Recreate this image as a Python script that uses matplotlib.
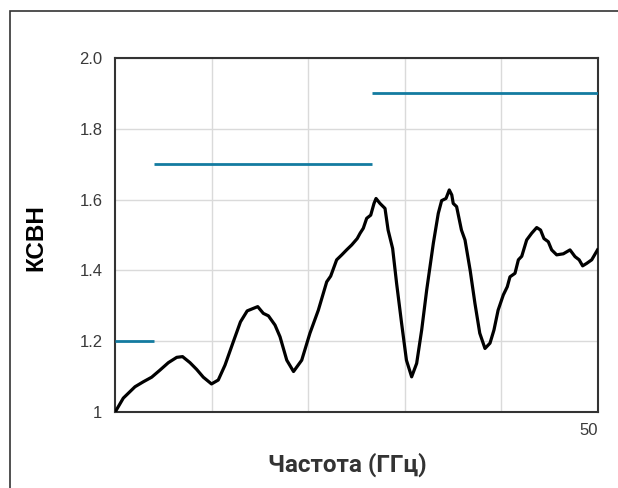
import matplotlib
matplotlib.use("Agg")
import matplotlib.pyplot as plt
from matplotlib.patches import Rectangle

# ---- data ----
freq_ghz = [0.0, 0.86, 2.07, 2.93, 3.8, 4.66, 5.53, 6.4, 7.0, 7.77, 8.46, 9.15,
            10.0, 10.7, 11.4, 12.26, 13.0, 13.7, 14.33, 14.79, 15.37, 15.9, 16.58,
            17.1, 17.8, 18.5, 19.35, 20.2, 21.07, 21.94, 22.35, 22.97, 23.5, 24.0,
            24.53, 25.1, 25.4, 25.73, 26.08, 26.5, 26.84, 27.05, 27.46, 27.98,
            28.3, 28.77, 29.18, 29.7, 30.2, 30.74, 31.26, 31.78, 32.3, 32.99,
            33.5, 33.85, 34.3, 34.64, 34.9, 35.05, 35.4, 35.9, 36.27, 36.8, 37.3,
            37.8, 38.34, 38.86, 39.27, 39.7, 40.24, 40.65, 40.93, 41.45, 41.8,
            42.15, 42.66, 43.18, 43.7, 44.1, 44.45, 44.9, 45.25, 45.77, 46.46,
            47.15, 47.67, 48.1, 48.46, 48.88, 49.4, 50.0]
vswr = [1.0, 1.04, 1.072, 1.086, 1.099, 1.119, 1.14, 1.155, 1.157, 1.14, 1.121, 1.099,
        1.08, 1.091, 1.133, 1.199, 1.255, 1.286, 1.293, 1.298, 1.279, 1.272, 1.246,
        1.213, 1.147, 1.115, 1.147, 1.223, 1.288, 1.368, 1.384, 1.43, 1.444, 1.458,
        1.472, 1.49, 1.505, 1.519, 1.547, 1.556, 1.589, 1.603, 1.589, 1.575,
        1.514, 1.462, 1.364, 1.251, 1.147, 1.10, 1.138, 1.232, 1.345, 1.477,
        1.561, 1.597, 1.603, 1.627, 1.613, 1.589, 1.58, 1.514, 1.486, 1.401, 1.307,
        1.223, 1.18, 1.195, 1.232, 1.288, 1.331, 1.354, 1.382, 1.392, 1.43,
        1.44, 1.486, 1.505, 1.521, 1.514, 1.49, 1.481, 1.458, 1.444, 1.447,
        1.458, 1.439, 1.43, 1.413, 1.42, 1.43, 1.458]

limit_start = [0.0, 4.0, 26.6]
limit_end = [4.0, 26.6, 50.0]
limit_value = [1.2, 1.7, 1.9]

y_ticks = [1.0, 1.2, 1.4, 1.6, 1.8, 2.0]
y_tick_labels = ["1", "1.2", "1.4", "1.6", "1.8", "2.0"]
x_grid = [10, 20, 30, 40, 50]
x_tick_labels = ["", "", "", "", "50"]

W, H = 618, 488
fig = plt.figure(figsize=(W / 100, H / 100), dpi=100)
fig.patch.set_facecolor("white")

# outer frame
fig.patches.append(Rectangle((10 / W, -0.1), 2.0, 1 - 11 / H + 0.1,
                             transform=fig.transFigure, fill=False,
                             edgecolor="#333333", linewidth=1.2))

ax = fig.add_axes([115 / W, 1 - 412.3 / H, (597.5 - 115) / W, (412.3 - 57.7) / H])
ax.set_xlim(0, 50)
ax.set_ylim(1.0, 2.0)

ax.set_yticks(y_ticks)
ax.set_yticklabels(y_tick_labels, fontfamily="Liberation Sans", fontsize=12, color="#3a3a3a")
ax.set_xticks(x_grid)
ax.set_xticklabels(x_tick_labels, fontfamily="Liberation Sans", fontsize=12, color="#3a3a3a")
ax.tick_params(axis="both", length=0)
ax.tick_params(axis="y", pad=9)
ax.tick_params(axis="x", pad=8)
for lbl in ax.get_xticklabels():
    lbl.set_horizontalalignment("right")

ax.grid(True, color="#dadada", linewidth=1.0)
ax.set_axisbelow(True)
for s in ax.spines.values():
    s.set_color("#333333")
    s.set_linewidth(1.5)

ax.hlines(limit_value, limit_start, limit_end, colors="#137ba0", linewidth=2.0, zorder=3)
ax.plot(freq_ghz, vswr, color="black", linewidth=2.3, zorder=4)

fig.text(36 / W, 1 - 238 / H, "КСВН", rotation=90, ha="center", va="center",
         fontfamily="Liberation Sans", fontweight="bold", fontsize=17.5, color="black")
fig.text(347 / W, 1 - 465 / H, "Частота (ГГц)", ha="center", va="center",
         fontfamily="Roboto", fontweight="bold", fontsize=17.5, color="#333333")

fig.savefig("out.png", dpi=100)
